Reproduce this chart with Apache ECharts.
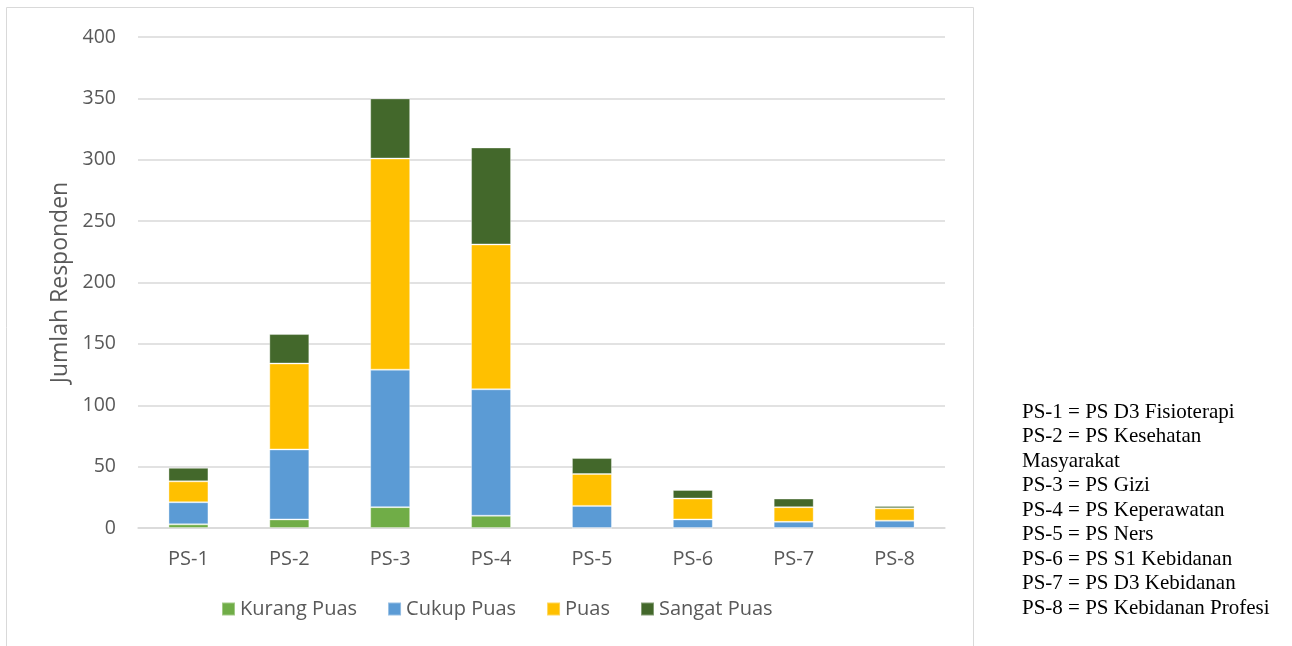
<!DOCTYPE html>
<html><head><meta charset="utf-8">
<script src="https://cdn.jsdelivr.net/npm/echarts@6/dist/echarts.min.js"></script>
<style>html,body{margin:0;padding:0;background:#fff}#c{width:1292px;height:646px}</style>
</head><body><div id="c"></div>
<script>
var categories = ['PS-1','PS-2','PS-3','PS-4','PS-5','PS-6','PS-7','PS-8'];
var kurangPuas = [3, 7, 17, 10, 0, 0, 0, 0];
var cukupPuas  = [18, 57, 112, 103, 18, 7, 5, 6];
var puas       = [17, 70, 172, 118, 26, 17, 12, 10];
var sangatPuas = [11, 24, 49, 79, 13, 7, 7, 2];
var yTicks = [0, 50, 100, 150, 200, 250, 300, 350, 400];
var notes = ['PS-1 = PS D3 Fisioterapi','PS-2 = PS Kesehatan','Masyarakat','PS-3 = PS Gizi','PS-4 = PS Keperawatan','PS-5 = PS Ners','PS-6 = PS S1 Kebidanan','PS-7 = PS D3 Kebidanan','PS-8 = PS Kebidanan Profesi'];

var font = '"Open Sans", "Liberation Sans", sans-serif';
function ser(name, data, color){
  return {name:name, type:'bar', stack:'t', data:data, barWidth:40,
    itemStyle:{color:color, borderColor:'rgba(255,255,255,0.35)', borderWidth:1},
    emphasis:{disabled:true}};
}
var chart = echarts.init(document.getElementById('c'));
chart.setOption({
  animation:false,
  graphic:[
    {type:'rect', shape:{x:6.5,y:7.5,width:967,height:660}, style:{fill:'none', stroke:'#D9D9D9', lineWidth:1}, silent:true},
    {type:'text', left:1022, top:400, style:{text:notes.join('\n'), font:'21px "Liberation Serif", "Times New Roman", serif', fill:'#000', lineHeight:24.5}}
  ],
  grid:{left:138, right:347, top:37, bottom:118},
  legend:{bottom:22, left:216, itemWidth:13, itemHeight:13, itemGap:30, icon:'rect',
    textStyle:{fontFamily:font, fontSize:20, color:'#595959'},
    data:['Kurang Puas','Cukup Puas','Puas','Sangat Puas']},
  xAxis:{type:'category', data:categories,
    axisLine:{lineStyle:{color:'#D9D9D9', width:1.5}}, axisTick:{show:false},
    axisLabel:{fontFamily:font, fontSize:20, color:'#595959', margin:21}},
  yAxis:{type:'value', min:yTicks[0], max:yTicks[yTicks.length-1], interval:50,
    name:'Jumlah Responden', nameLocation:'middle', nameGap:66, nameRotate:90,
    nameTextStyle:{fontFamily:font, fontSize:23, color:'#595959'},
    axisLine:{show:false}, axisTick:{show:false},
    axisLabel:{fontFamily:font, fontSize:19.5, color:'#595959', margin:22},
    splitLine:{lineStyle:{color:'#D9D9D9', width:1.5}}},
  series:[
    ser('Kurang Puas', kurangPuas, '#70AD47'),
    ser('Cukup Puas', cukupPuas, '#5B9BD5'),
    ser('Puas', puas, '#FFC000'),
    ser('Sangat Puas', sangatPuas, '#43682B')
  ]
});
</script></body></html>
